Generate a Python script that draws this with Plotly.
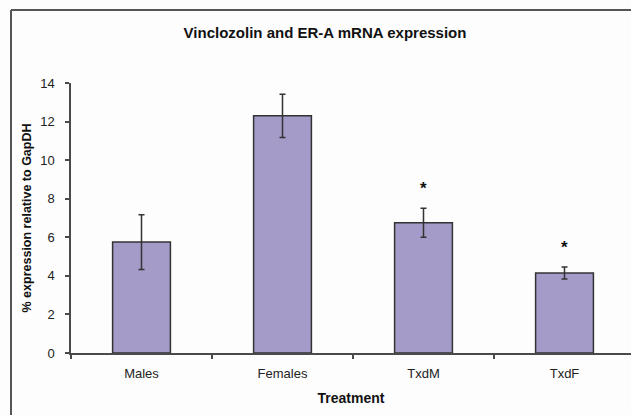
import plotly.graph_objects as go

categories = ["Males", "Females", "TxdM", "TxdF"]
values = [5.75, 12.3, 6.75, 4.15]
errors = [1.42, 1.12, 0.75, 0.31]
stars = ["", "", "*", "*"]
y_ticks = [0, 2, 4, 6, 8, 10, 12, 14]

FONT = "Liberation Sans, Arial, sans-serif"
AX = "#4a4a4a"

fig = go.Figure()
fig.add_trace(go.Bar(
    x=categories, y=values,
    marker=dict(color="#a59bc8", line=dict(color="#333333", width=1.5)),
    width=0.41,
    error_y=dict(type="data", array=errors, visible=True,
                 color="#333333", thickness=1.5, width=3),
    showlegend=False,
))

for c, v, e, s in zip(categories, values, errors, stars):
    if s:
        fig.add_annotation(x=c, y=v + e, text="<b>" + s + "</b>", showarrow=False,
                           yanchor="bottom", yshift=8,
                           font=dict(family=FONT, size=17, color="#111111"))

W, H = 631, 415
L, R, T, B = 71, 0, 83, 62
pw, ph = W - L - R, H - T - B
CAT_W = 141

def px_x(px):
    return (px - L) / pw

def px_y(py):
    return (H - B - py) / ph

# outer frame (left and top borders)
fig.add_shape(type="line", xref="paper", yref="paper",
              x0=px_x(11), x1=px_x(W + 5), y0=px_y(10), y1=px_y(10),
              line=dict(color="#555555", width=2))
fig.add_shape(type="line", xref="paper", yref="paper",
              x0=px_x(11), x1=px_x(11), y0=px_y(10), y1=px_y(H + 5),
              line=dict(color="#555555", width=2))

fig.update_layout(
    width=W, height=H,
    margin=dict(l=L, r=R, t=T, b=B),
    paper_bgcolor="#fdfdfd", plot_bgcolor="#fdfdfd",
    font=dict(family=FONT, size=13, color="#222222"),
    title=dict(text="<b>Vinclozolin and ER-A mRNA expression</b>",
               x=325 / W, xanchor="center",
               y=1 - 33 / H, yanchor="middle",
               font=dict(family=FONT, size=15, color="#111111")),
)
fig.update_xaxes(
    range=[-0.5, -0.5 + pw / CAT_W], automargin=False,
    showline=True, linecolor=AX, linewidth=1.5,
    ticks="outside", tickson="boundaries", ticklen=4, tickcolor=AX, tickwidth=1.5,
    ticklabelstandoff=8,
    showgrid=False, zeroline=False,
    tickfont=dict(family=FONT, size=13, color="#222222"),
    title=dict(text="<b>Treatment</b>", standoff=13,
               font=dict(family=FONT, size=14, color="#111111")),
)
fig.update_yaxes(
    range=[0, 14], tickvals=y_ticks, automargin=False,
    showline=True, linecolor=AX, linewidth=1.5,
    ticks="outside", ticklen=4, tickcolor=AX, tickwidth=1.5,
    ticklabelstandoff=8,
    showgrid=False, zeroline=False,
    tickfont=dict(family=FONT, size=13, color="#222222"),
    title=dict(text="<b>% expression relative to GapDH</b>", standoff=6,
               font=dict(family=FONT, size=12.5, color="#111111")),
)

fig.write_html("out.html", config={"displayModeBar": False},
               post_script="document.body.style.margin='0';document.body.style.background='#fdfdfd';")
